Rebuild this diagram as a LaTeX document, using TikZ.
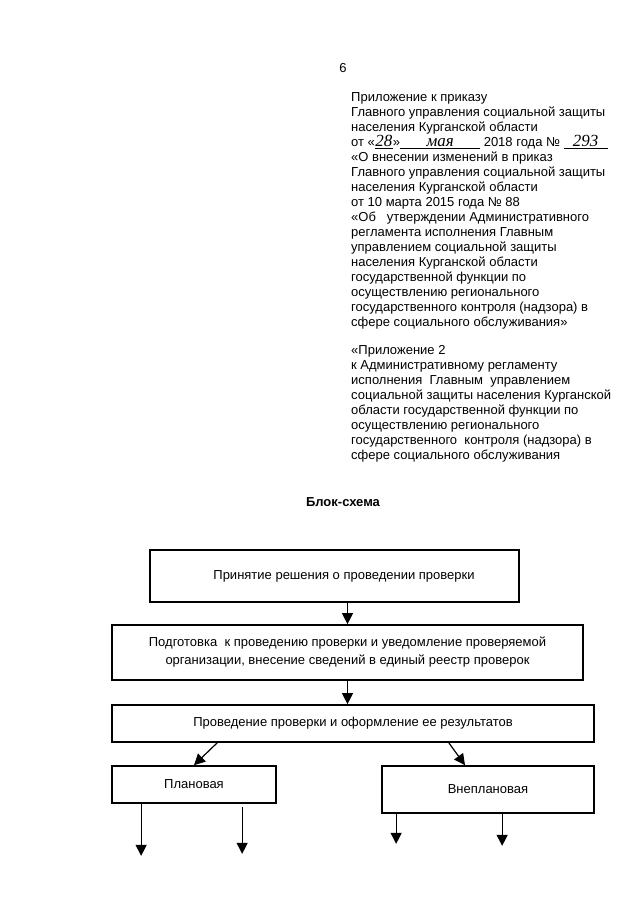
\documentclass[tikz,border=0pt]{standalone}
\usepackage{fontspec}
\setmainfont{Liberation Sans}
\newfontfamily\handfont{Liberation Serif}
\usetikzlibrary{arrows.meta}

\begin{document}
\begin{tikzpicture}[x=1pt, y=-1pt, >={Triangle[width=11pt,length=11pt]},
		font=\fontsize{13}{15}\selectfont,
		block/.style={draw, line width=1.7pt, align=center, inner sep=0pt},
		conn/.style={->, line width=1.2pt}]
	\useasboundingbox (0,0) rectangle (640,905);
	\node (pagenum) at (343,68) {6};
	\node[anchor=north west, align=left, inner sep=0pt] (order) at (351,92) {Приложение к приказу\\
		Главного управления социальной защиты\\
		населения Курганской области\\
		от «\underline{\makebox[18pt]{\handfont\itshape\fontsize{17}{15}\selectfont 28}}»\underline{\makebox[80pt]{\handfont\itshape\fontsize{17}{15}\selectfont мая}} 2018 года № \underline{\makebox[44pt]{\handfont\itshape\fontsize{17}{15}\selectfont 293}}\\
		«О внесении изменений в приказ\\
		Главного управления социальной защиты\\
		населения Курганской области\\
		от 10 марта 2015 года № 88\\
		«Об~~ утверждении Административного\\
		регламента исполнения Главным\\
		управлением социальной защиты\\
		населения Курганской области\\
		государственной функции по\\
		осуществлению регионального\\
		государственного контроля (надзора) в\\
		сфере социального обслуживания»};
	\node[anchor=north west, align=left, inner sep=0pt] (annex) at (351,345) {«Приложение 2\\
		к Административному регламенту\\
		исполнения~ Главным~ управлением\\
		социальной защиты населения Курганской\\
		области государственной функции по\\
		осуществлению регионального\\
		государственного~ контроля (надзора) в\\
		сфере социального обслуживания};
	\node[font=\bfseries\fontsize{13}{15}\selectfont] (title) at (343,502) {Блок-схема};
	% boxes
	\node[block, minimum width=369pt, minimum height=52pt] (decision) at (334.5,576) {\hspace*{19pt}Принятие решения о проведении проверки};
	\node[block, minimum width=471pt, minimum height=55pt, font=\fontsize{13}{18}\selectfont] (prepare) at (347.5,652.5) {Подготовка~ к проведению проверки и уведомление проверяемой\\организации, внесение сведений в единый реестр проверок};
	\node[block, minimum width=482pt, minimum height=37pt] (conduct) at (353,723.5) {Проведение проверки и оформление ее результатов};
	\node[block, minimum width=164pt, minimum height=37pt] (plan) at (194,784.5) {Плановая};
	\node[block, minimum width=212pt, minimum height=47pt] (unplan) at (488,789.5) {Внеплановая};
	% arrows
	\draw[conn] (prepare.north |- decision.south) -- (prepare.north);
	\draw[conn] (prepare.south) -- (prepare.south |- conduct.north);
	\draw[conn] ([xshift=106pt]conduct.south west) -- (plan.north);
	\draw[conn] ([xshift=-146pt]conduct.south east) -- ([xshift=-23pt]unplan.north);
	\draw[conn] ([xshift=30pt]plan.south west) -- ++(0,52);
	\draw[conn] ([xshift=131pt, yshift=-3pt]plan.south west) -- ++(0,47);
	\draw[conn] ([xshift=15pt]unplan.south west) -- ++(0,30);
	\draw[conn] ([xshift=121pt]unplan.south west) -- ++(0,32);
\end{tikzpicture}
\end{document}
